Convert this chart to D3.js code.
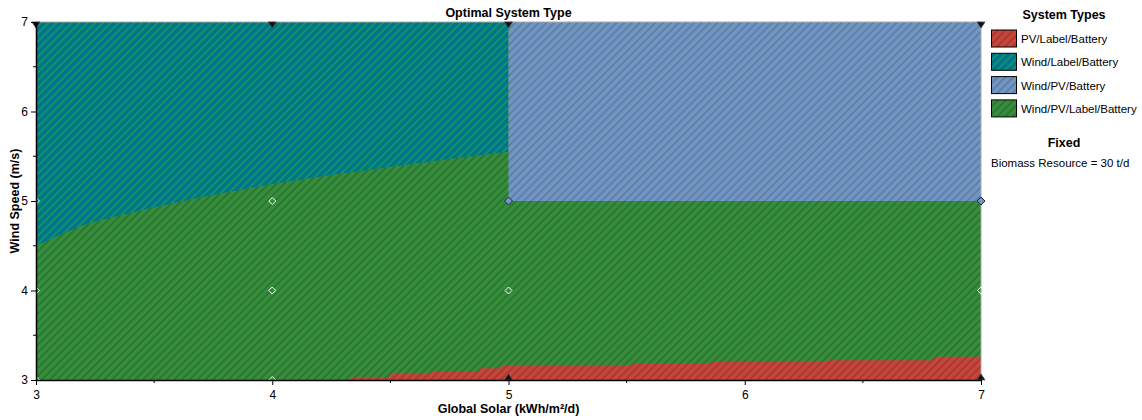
<!DOCTYPE html>
<html>
<head>
<meta charset="utf-8">
<script src="https://cdn.jsdelivr.net/npm/d3@7"></script>
<style>
  body { margin: 0; background: #fff; }
  svg { display: block; font-family: "Liberation Sans", Arial, sans-serif; }
</style>
</head>
<body>
<svg id="chart" width="1142" height="420"></svg>
<script>
// ---------- data ----------
const chartTitle = "Optimal System Type";
const xAxisTitle = "Global Solar (kWh/m²/d)";
const yAxisTitle = "Wind Speed (m/s)";
const xTicks = [3, 4, 5, 6, 7];
const yTicks = [3, 4, 5, 6, 7];
const xMinorTicks = [3.5, 4.5, 5.5, 6.5];
const yMinorTicks = [3.5, 4.5, 5.5, 6.5];

const systemTypes = ["PV/Label/Battery", "Wind/Label/Battery", "Wind/PV/Battery", "Wind/PV/Label/Battery"];
const typeFills = ["#c6463b", "#00748c", "#7196c4", "#368e3d"];
const typeHatch = ["#8a2a22", "#22b83a", "#4a6688", "#1f5a24"];

// Wind/Label/Battery region: above this boundary, solar 3..5
const windLabelSolar = [3, 3.1, 3.19, 3.25, 3.5, 3.75, 4, 4.25, 4.5, 4.75, 5];
const windLabelWind  = [4.5, 4.62, 4.72, 4.77, 4.93, 5.07, 5.19, 5.29, 5.38, 5.47, 5.55];

// Wind/PV/Battery region (rectangle)
const windPvSolar = [5, 7];
const windPvWind  = [5, 7];

// PV/Label/Battery region: below this (stepped) boundary
const pvLabelSolar = [4.12, 4.33, 4.5, 4.67, 4.88, 4.97, 5.52, 5.86, 6.35, 6.8, 7];
const pvLabelWind  = [3.01, 3.03, 3.07, 3.09, 3.13, 3.16, 3.18, 3.2, 3.22, 3.26, 3.26];

// sensitivity points
const pointSolar = [3, 3, 3, 3, 4, 4, 4, 4, 5, 5, 5, 5, 7, 7, 7, 7];
const pointWind  = [7, 5, 4, 3, 7, 5, 4, 3, 7, 5, 4, 3, 7, 5, 4, 3];
const pointKind  = ["down", "white", "white", "white", "down", "white", "white", "white",
                    "down", "blue", "white", "up", "down", "blue", "white", "up"];

const fixedTitle = "Fixed";
const fixedText = "Biomass Resource = 30 t/d";

// ---------- layout ----------
const svg = d3.select("#chart");
const x = d3.scaleLinear().domain([3, 7]).range([36, 981]);
const y = d3.scaleLinear().domain([3, 7]).range([380, 22]);

const defs = svg.append("defs");
systemTypes.forEach((t, i) => {
  const p = defs.append("pattern")
    .attr("id", "hatch" + i)
    .attr("patternUnits", "userSpaceOnUse")
    .attr("width", 5.5).attr("height", 5.5)
    .attr("patternTransform", "rotate(45)");
  p.append("rect").attr("width", 5.5).attr("height", 5.5).attr("fill", typeFills[i]);
  p.append("line").attr("x1", 1).attr("x2", 1).attr("y1", 0).attr("y2", 5.5)
    .attr("stroke", typeHatch[i]).attr("stroke-width", 0.9);
});
defs.append("clipPath").attr("id", "plotClip")
  .append("rect").attr("x", x(3)).attr("y", y(7)).attr("width", x(7) - x(3)).attr("height", y(3) - y(7));

const plot = svg.append("g").attr("clip-path", "url(#plotClip)");

// green background (Wind/PV/Label/Battery)
plot.append("rect")
  .attr("x", x(3)).attr("y", y(7)).attr("width", x(7) - x(3)).attr("height", y(3) - y(7))
  .attr("fill", "url(#hatch3)");

// Wind/Label/Battery
const wl = windLabelSolar.map((s, i) => [s, windLabelWind[i]]);
plot.append("path")
  .attr("d", d3.area().x(d => x(d[0])).y0(y(7)).y1(d => y(d[1]))(wl))
  .attr("fill", "url(#hatch1)");

// Wind/PV/Battery
plot.append("rect")
  .attr("x", x(windPvSolar[0])).attr("y", y(windPvWind[1]))
  .attr("width", x(windPvSolar[1]) - x(windPvSolar[0]))
  .attr("height", y(windPvWind[0]) - y(windPvWind[1]))
  .attr("fill", "url(#hatch2)");

// PV/Label/Battery
const pl = pvLabelSolar.map((s, i) => [s, pvLabelWind[i]]);
plot.append("path")
  .attr("d", d3.area().curve(d3.curveStepAfter).x(d => x(d[0])).y0(y(3)).y1(d => y(d[1]))(pl))
  .attr("fill", "url(#hatch0)");

// frame (top/right)
svg.append("path")
  .attr("d", `M${x(3)},${y(7)}H${x(7)}V${y(3)}`)
  .attr("fill", "none").attr("stroke", "#aaaaaa").attr("stroke-width", 1);

// points
const pts = pointSolar.map((s, i) => ({ s, w: pointWind[i], k: pointKind[i] }));
const pg = svg.append("g");
pts.forEach(p => {
  const cx = x(p.s), cy = y(p.w);
  if (p.k === "white") {
    pg.append("path").attr("d", `M${cx},${cy - 3.5}L${cx + 3.5},${cy}L${cx},${cy + 3.5}L${cx - 3.5},${cy}Z`)
      .attr("fill", "none").attr("stroke", "#ffffff").attr("stroke-width", 1);
  } else if (p.k === "blue") {
    pg.append("path").attr("d", `M${cx},${cy - 4}L${cx + 4},${cy}L${cx},${cy + 4}L${cx - 4},${cy}Z`)
      .attr("fill", "#7196c4").attr("stroke", "#1a2a44").attr("stroke-width", 1);
  } else if (p.k === "down") {
    pg.append("path").attr("d", `M${cx - 4},${cy}L${cx + 4},${cy}L${cx},${cy + 6}Z`)
      .attr("fill", "#111").attr("stroke", "#444").attr("stroke-width", 0.8);
  } else {
    pg.append("path").attr("d", `M${cx - 4},${cy}L${cx + 4},${cy}L${cx},${cy - 6}Z`)
      .attr("fill", "#111").attr("stroke", "#444").attr("stroke-width", 0.8);
  }
});

// axes
const xAxis = svg.append("g").attr("transform", `translate(0,${y(3)})`)
  .call(d3.axisBottom(x).tickValues(xTicks).tickFormat(d3.format("d")).tickSize(5).tickSizeOuter(0));
xAxis.append("g").selectAll("line").data(xMinorTicks).join("line")
  .attr("x1", d => x(d)).attr("x2", d => x(d)).attr("y1", 0).attr("y2", 3).attr("stroke", "#000");
const yAxis = svg.append("g").attr("transform", `translate(${x(3)},0)`)
  .call(d3.axisLeft(y).tickValues(yTicks).tickFormat(d3.format("d")).tickSize(5).tickSizeOuter(0));
yAxis.append("g").selectAll("line").data(yMinorTicks).join("line")
  .attr("x1", 0).attr("x2", -3).attr("y1", d => y(d)).attr("y2", d => y(d)).attr("stroke", "#000");
[xAxis, yAxis].forEach(a => {
  a.select(".domain").attr("stroke", "#000").attr("stroke-width", 1.5);
  a.selectAll("text").attr("font-size", 12).attr("fill", "#000")
    .attr("font-family", "'Liberation Sans', Arial, sans-serif");
});
xAxis.selectAll(".tick text").attr("dy", "0.9em");

// titles
svg.append("text").attr("x", (x(3) + x(7)) / 2).attr("y", 17).attr("text-anchor", "middle")
  .attr("font-size", 12.5).attr("font-weight", "bold").text(chartTitle);
svg.append("text").attr("x", (x(3) + x(7)) / 2).attr("y", 413).attr("text-anchor", "middle")
  .attr("font-size", 12.5).attr("font-weight", "bold").text(xAxisTitle);
svg.append("text").attr("transform", `translate(19,${(y(3) + y(7)) / 2}) rotate(-90)`)
  .attr("text-anchor", "middle").attr("font-size", 12.5).attr("font-weight", "bold").text(yAxisTitle);

// legend
const lg = svg.append("g");
lg.append("text").attr("x", 1064).attr("y", 19).attr("text-anchor", "middle")
  .attr("font-size", 12.5).attr("font-weight", "bold").text("System Types");
systemTypes.forEach((t, i) => {
  const yy = 30 + i * 23.3;
  lg.append("rect").attr("x", 991.5).attr("y", yy).attr("width", 25).attr("height", 17)
    .attr("fill", `url(#hatch${i})`).attr("stroke", "#000").attr("stroke-width", 1);
  lg.append("text").attr("x", 1021).attr("y", yy + 13).attr("font-size", 11.5).text(t);
});
lg.append("text").attr("x", 1064).attr("y", 147).attr("text-anchor", "middle")
  .attr("font-size", 12.5).attr("font-weight", "bold").text(fixedTitle);
lg.append("text").attr("x", 991).attr("y", 167).attr("font-size", 11.5).text(fixedText);
</script>
</body>
</html>
